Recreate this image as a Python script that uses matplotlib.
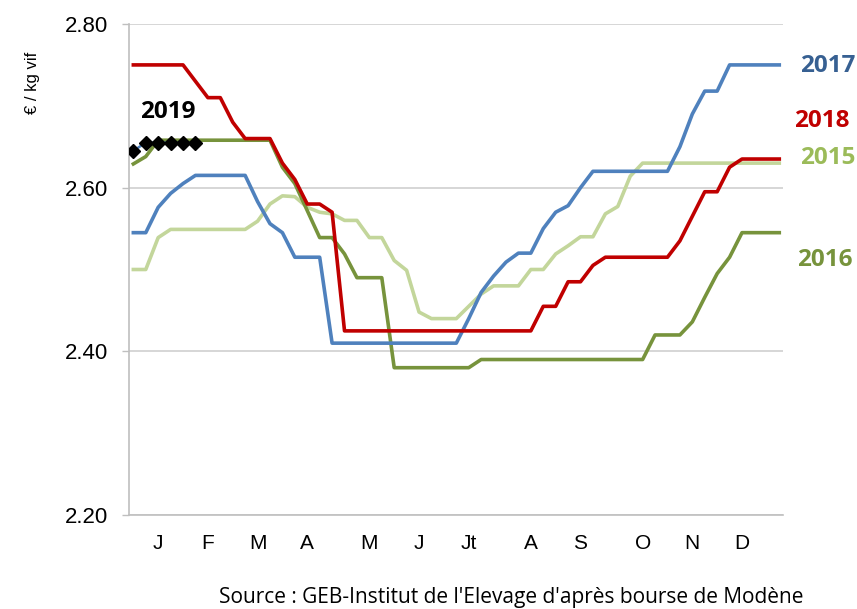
import matplotlib
matplotlib.use("Agg")
import matplotlib.pyplot as plt
import numpy as np

# ---- data (weekly prices, €/kg vif) ----
y2018 = [2.75, 2.75, 2.75, 2.75, 2.75, 2.73, 2.71, 2.71, 2.68, 2.66, 2.66, 2.66, 2.63, 2.61, 2.58, 2.58, 2.57,
         2.425, 2.425, 2.425, 2.425, 2.425, 2.425, 2.425, 2.425, 2.425, 2.425, 2.425, 2.425, 2.425, 2.425, 2.425, 2.425,
         2.455, 2.455, 2.485, 2.485, 2.505,
         2.515, 2.515, 2.515, 2.515, 2.515, 2.515,
         2.535, 2.565, 2.595, 2.595, 2.625,
         2.635, 2.635, 2.635, 2.635]
y2017 = [2.545, 2.545, 2.576, 2.593, 2.605, 2.615, 2.615, 2.615, 2.615, 2.615, 2.583, 2.556, 2.545, 2.515, 2.515, 2.515,
         2.41, 2.41, 2.41, 2.41, 2.41, 2.41, 2.41, 2.41, 2.41, 2.41, 2.41,
         2.44, 2.472, 2.492, 2.509, 2.52, 2.52, 2.55, 2.57, 2.578, 2.60,
         2.62, 2.62, 2.62, 2.62, 2.62, 2.62, 2.62,
         2.65, 2.69, 2.718, 2.718,
         2.75, 2.75, 2.75, 2.75, 2.75]
y2015 = [2.50, 2.50, 2.539, 2.549, 2.549, 2.549, 2.549, 2.549, 2.549, 2.549,
         2.559, 2.58, 2.59, 2.589, 2.576, 2.570, 2.568, 2.56, 2.56, 2.539, 2.539, 2.511, 2.499, 2.448, 2.44, 2.44, 2.44,
         2.455, 2.47, 2.48, 2.48, 2.48, 2.50, 2.50, 2.519, 2.529, 2.54, 2.54, 2.568, 2.577, 2.614,
         2.63, 2.63, 2.63, 2.63, 2.63, 2.63, 2.63, 2.63, 2.63, 2.63, 2.63, 2.63]
y2016 = [2.629, 2.638, 2.658, 2.658, 2.658, 2.658, 2.658, 2.658, 2.658, 2.658, 2.658, 2.658,
         2.625, 2.605, 2.572, 2.539, 2.539, 2.519, 2.49, 2.49, 2.49,
         2.38, 2.38, 2.38, 2.38, 2.38, 2.38, 2.38,
         2.39, 2.39, 2.39, 2.39, 2.39, 2.39, 2.39, 2.39, 2.39, 2.39, 2.39, 2.39, 2.39, 2.39,
         2.42, 2.42, 2.42, 2.436, 2.466, 2.495, 2.515,
         2.545, 2.545, 2.545, 2.545]
y2019 = [2.645, 2.655, 2.655, 2.655, 2.655, 2.655]

month_labels = ["J", "F", "M", "A", "M", "J", "Jt", "A", "S", "O", "N", "D"]
month_weeks = [2, 6, 10, 14, 19, 23, 27, 32, 36, 41, 45, 49]

weeks = np.arange(len(y2018))

c_blue = "#4F81BD"
c_red = "#C00000"
c_dgreen = "#77933C"
c_lgreen = "#C3D69B"

plt.rcParams['font.family'] = ['Liberation Sans', 'DejaVu Sans']

fig = plt.figure(figsize=(8.57, 6.09), dpi=100)
ax = fig.add_axes([129/857, 94/609, 654/857, 491/609])

lw = 2.6
ax.plot(weeks, y2015, color=c_lgreen, lw=lw, solid_joinstyle='round', zorder=3)
ax.plot(weeks, y2016, color=c_dgreen, lw=lw, solid_joinstyle='round', zorder=4)
ax.plot(weeks, y2017, color=c_blue, lw=lw, solid_joinstyle='round', zorder=5)
ax.plot(weeks, y2018, color=c_red, lw=lw, solid_joinstyle='round', zorder=6)
ax.plot(np.arange(len(y2019)), y2019, color=c_blue, lw=1.8, marker='D', markersize=7,
        markerfacecolor='black', markeredgecolor='black', zorder=7)

ax.set_xlim(-0.35, len(weeks) - 1 + 0.3)
ax.set_ylim(2.20, 2.80)
ax.set_yticks([2.20, 2.40, 2.60, 2.80])
ax.set_yticklabels(["2.20", "2.40", "2.60", "2.80"])
ax.set_xticks(month_weeks)
ax.set_xticklabels(month_labels)

ax.grid(axis='y', color='#D0D0D0', lw=1.2)
ax.set_axisbelow(True)
for s in ['top', 'right']:
    ax.spines[s].set_visible(False)
for s in ['left', 'bottom']:
    ax.spines[s].set_color('#BFBFBF')
    ax.spines[s].set_linewidth(1.2)

ax.tick_params(axis='y', length=5, width=1.0, color='#BFBFBF', pad=10, labelsize=16)
ax.tick_params(axis='x', length=0, pad=14, labelsize=15)

# series labels
lab = dict(fontsize=17.5, fontweight='bold', family=['Open Sans', 'DejaVu Sans'],
           ha='center', va='center', clip_on=False)
ax.text(2.8, 2.692, "2019", color='black', **lab)
ax.text(55.9, 2.749, "2017", color='#376092', **lab)
ax.text(55.4, 2.681, "2018", color=c_red, **lab)
ax.text(55.9, 2.636, "2015", color='#9BBB59', **lab)
ax.text(55.7, 2.511, "2016", color=c_dgreen, **lab)

fig.text(33/857, 1 - 83/609, "€ / kg vif", rotation=90, ha='center', va='center', fontsize=12)
fig.text(511/857, 1 - 598/609, "Source : GEB-Institut de l'Elevage d'après bourse de Modène",
         ha='center', va='center', fontsize=15, family=['Open Sans', 'DejaVu Sans'])

fig.savefig("out.png", dpi=100)
